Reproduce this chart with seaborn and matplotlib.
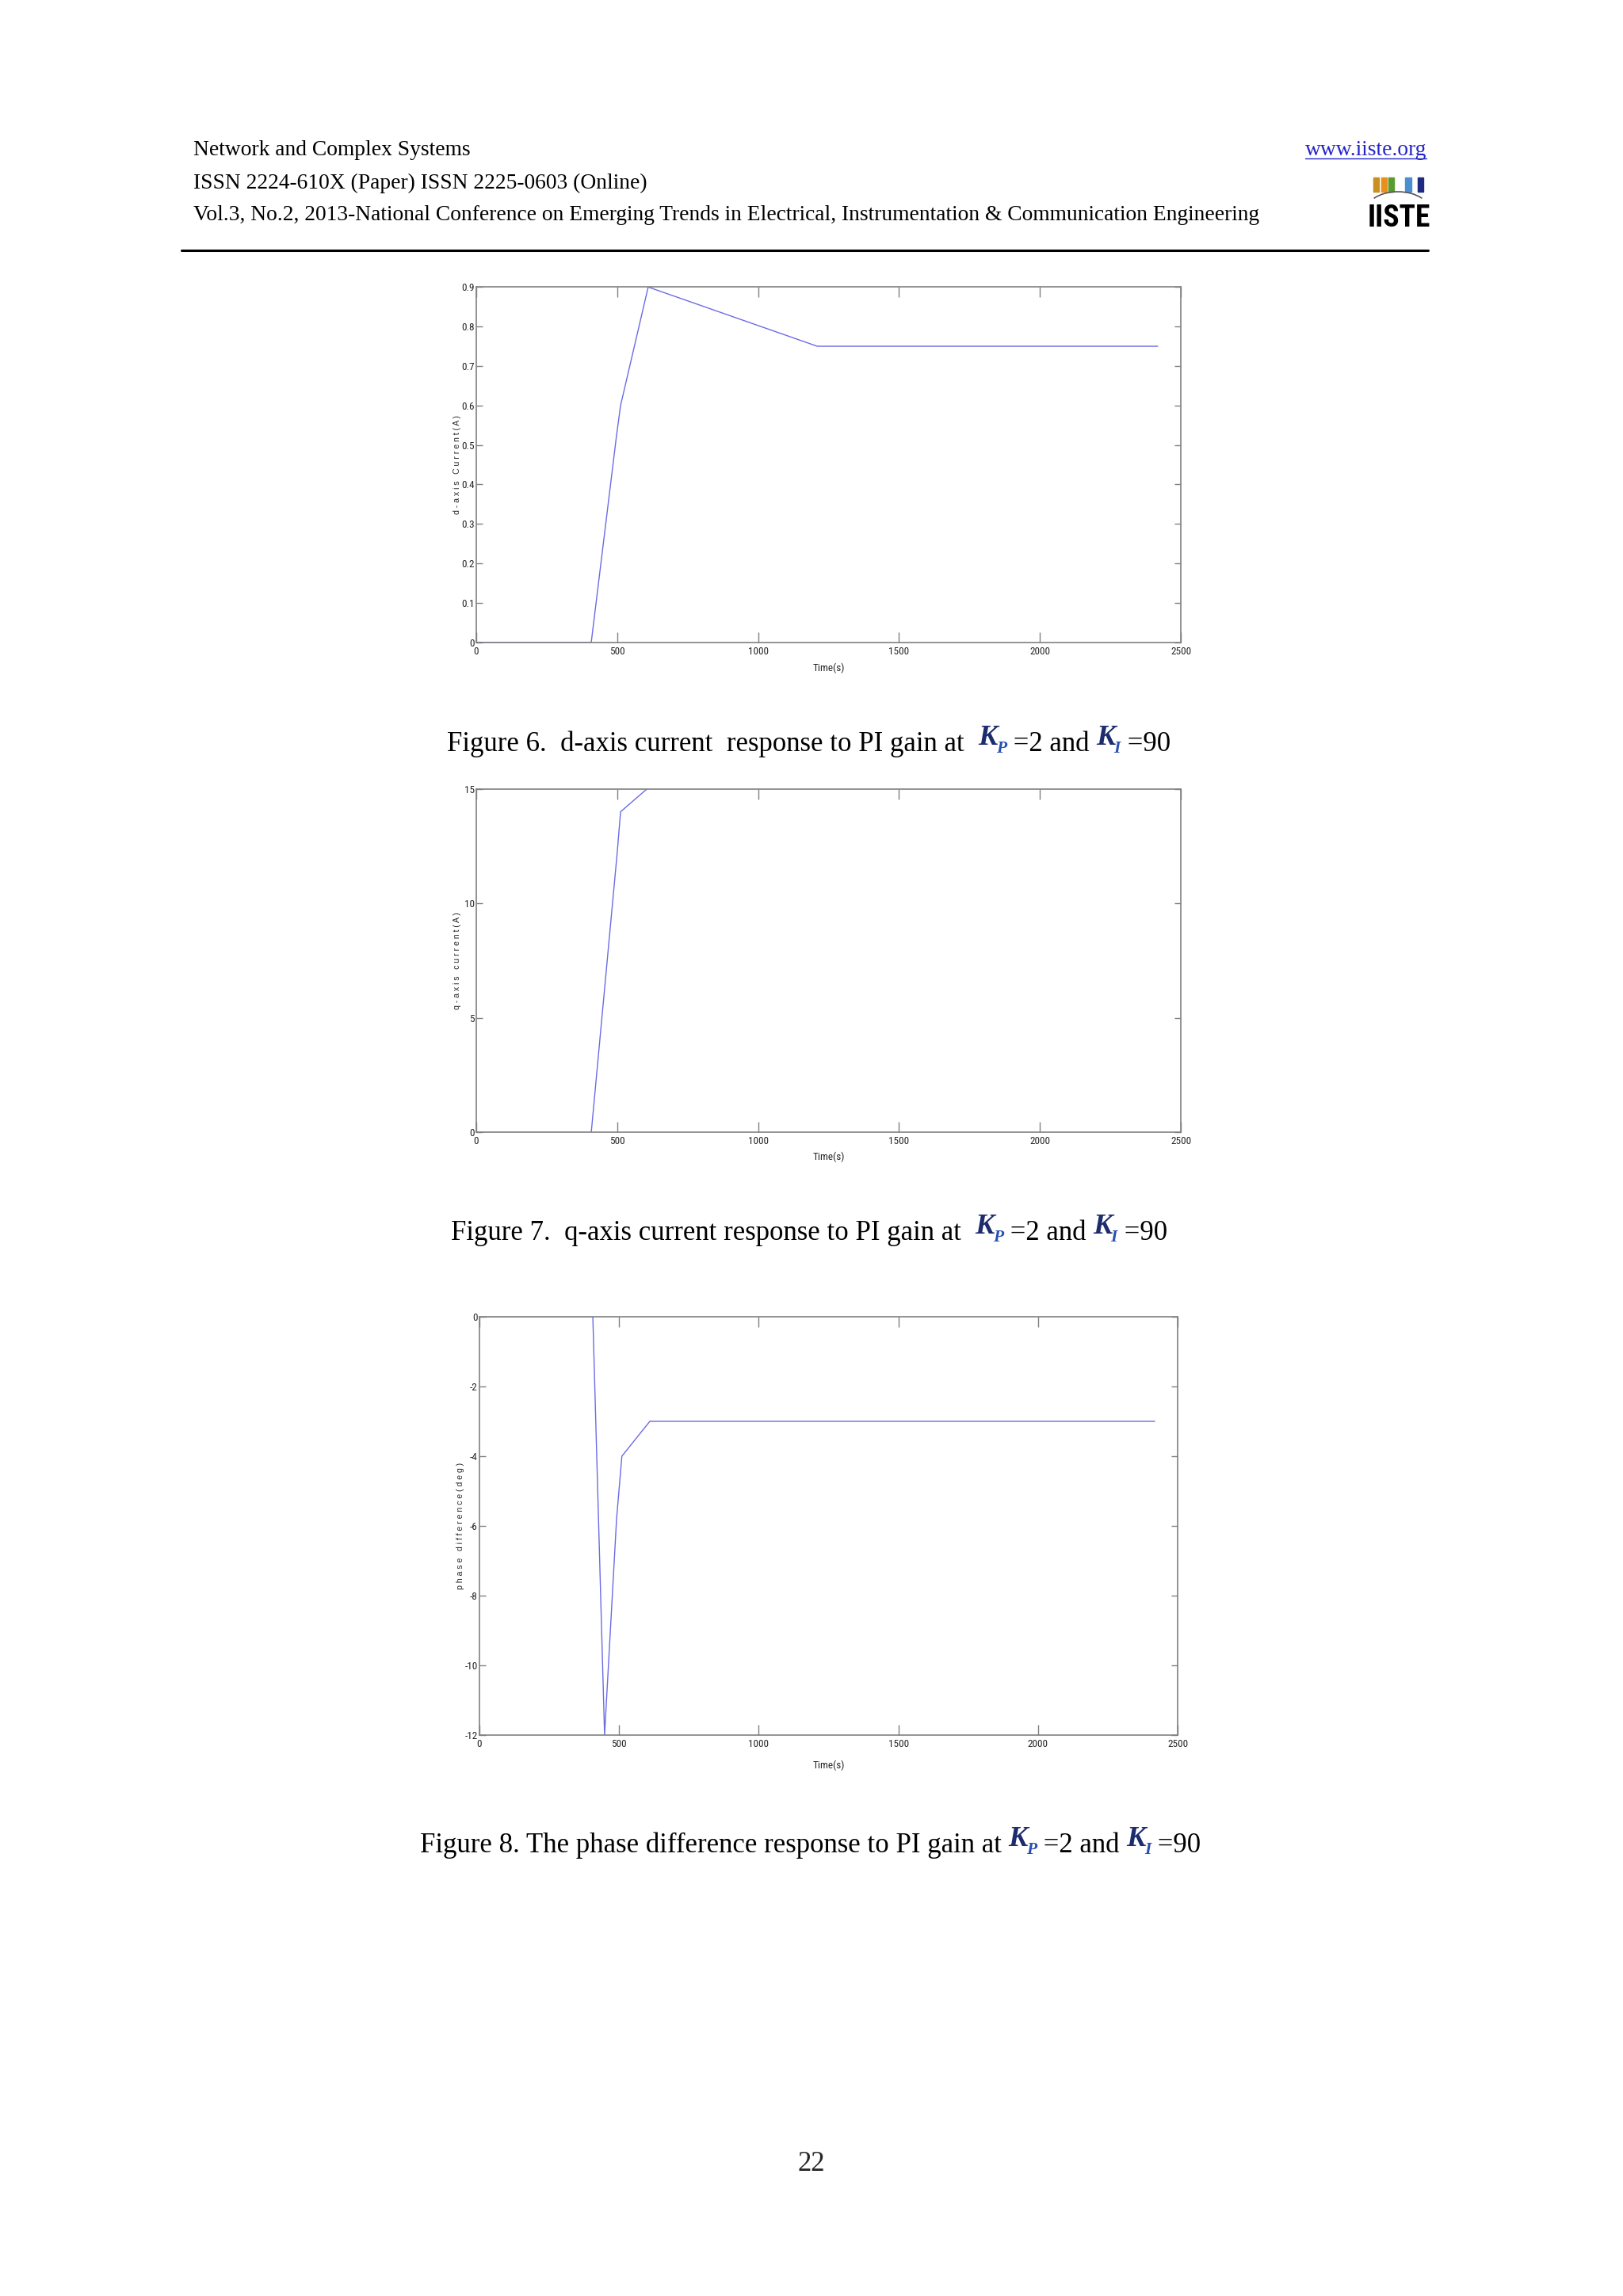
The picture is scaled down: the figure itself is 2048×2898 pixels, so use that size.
import numpy as np
import pandas as pd
import seaborn as sns
import matplotlib
matplotlib.use("Agg")
import matplotlib.pyplot as plt
from matplotlib import font_manager as fm
from matplotlib.patches import Rectangle, Arc
from matplotlib.lines import Line2D

# ---------------- data ----------------
t_d = [0, 408, 497, 512, 610, 1210, 2418]
i_d = [0, 0, 0.52, 0.6, 0.9, 0.75, 0.75]

t_q = [0, 408, 500, 512, 606]
i_q = [0, 0, 12.2, 14.0, 15.0]

t_ph = [0, 406, 448, 491, 510, 610, 2418]
ph = [0, 0, -12, -5.8, -4.0, -3.0, -3.0]

x_ticks = [0, 500, 1000, 1500, 2000, 2500]
x_ticklabels = ["0", "500", "1000", "1500", "2000", "2500"]
yd_ticks = [0, 0.1, 0.2, 0.3, 0.4, 0.5, 0.6, 0.7, 0.8, 0.9]
yd_labels = ["0", "0.1", "0.2", "0.3", "0.4", "0.5", "0.6", "0.7", "0.8", "0.9"]
yq_ticks = [0, 5, 10, 15]
yq_labels = ["0", "5", "10", "15"]
yp_ticks = [-12, -10, -8, -6, -4, -2, 0]
yp_labels = ["-12", "-10", "-8", "-6", "-4", "-2", "0"]

header_lines = ["Network and Complex Systems",
                "ISSN 2224-610X (Paper) ISSN 2225-0603 (Online)",
                "Vol.3, No.2, 2013-National Conference on Emerging Trends in Electrical, Instrumentation & Communication Engineering"]
captions = [
    ("Figure 6.  d-axis current  response to PI gain at  ", " =2 and ", " =90"),
    ("Figure 7.  q-axis current response to PI gain at  ", " =2 and ", " =90"),
    ("Figure 8. The phase difference response to PI gain at ", " =2 and ", " =90"),
]

# ---------------- style ----------------
sns.set_style("white")
names = {f.name for f in fm.fontManager.ttflist}
narrow = next((n for n in ["Liberation Sans Narrow", "Roboto Condensed", "Arial Narrow"] if n in names), "Liberation Sans")
plt.rcParams["font.family"] = ["Liberation Sans", "DejaVu Sans"]
plt.rcParams["axes.unicode_minus"] = False

W, H = 2048, 2898
fig = plt.figure(figsize=(W / 100, H / 100), dpi=100)
fig.patch.set_facecolor("white")

def fx(px):
    return px / W

def fy(py):
    return 1 - py / H

LINE = "#6b6be6"
SPINE = "#808080"
TFS = 9.5

def make_axes(rect, x, y, ylim, yt, ytl, ylabel, xlab_off, ylab_off):
    ax = fig.add_axes(rect)
    df = pd.DataFrame({"t": x, "v": y})
    sns.lineplot(data=df, x="t", y="v", ax=ax, color=LINE, lw=1.0, sort=False)
    ax.set_xlim(0, 2500)
    ax.set_ylim(*ylim)
    ax.set_xticks(x_ticks)
    ax.set_xticklabels(x_ticklabels, fontfamily=narrow, fontsize=TFS)
    ax.set_yticks(yt)
    ax.set_yticklabels(ytl, fontfamily=narrow, fontsize=TFS)
    ax.tick_params(axis="x", direction="in", length=9.4, width=1.0, color=SPINE,
                   top=True, bottom=True, labeltop=False, pad=3.5)
    ax.tick_params(axis="y", direction="in", length=5.8, width=1.0, color=SPINE,
                   left=True, right=True, labelright=False, pad=1.5)
    for s in ax.spines.values():
        s.set_visible(True)
        s.set_color(SPINE)
        s.set_linewidth(1.2)
    ax.set_xlabel("Time(s)", fontfamily=narrow, fontsize=TFS)
    ax.set_ylabel(ylabel, fontsize=7.6)
    ax.xaxis.set_label_coords(0.5, xlab_off)
    ax.yaxis.set_label_coords(ylab_off, 0.5)
    ax.grid(False)
    return ax

make_axes([fx(601), fy(810.7), fx(1490) - fx(601), (810.7 - 362.3) / H],
          t_d, i_d, (0, 0.9), yd_ticks, yd_labels, "d - a x i s   C u r r e n t ( A )", -0.058, -0.021)
make_axes([fx(601), fy(1429.3), fx(1490) - fx(601), (1429.3 - 995.7) / H],
          t_q, i_q, (0, 15), yq_ticks, yq_labels, "q - a x i s   c u r r e n t ( A )", -0.057, -0.021)
make_axes([fx(605), fy(2190), fx(1486) - fx(605), (2190 - 1662) / H],
          t_ph, ph, (-12, 0), yp_ticks, yp_labels, "p h a s e   d i f f e r e n c e ( d e g )", -0.059, -0.021)

# ---------------- header ----------------
SERIF = ["Liberation Serif", "DejaVu Serif"]
HFS = 19.8
for i, (txt, yy) in enumerate(zip(header_lines, [190, 231, 272])):
    fig.text(fx(244), fy(yy), txt, fontfamily=SERIF, fontsize=HFS, va="center", ha="left", color="black")
url = fig.text(fx(1800), fy(190), "www.iiste.org", fontfamily=SERIF, fontsize=HFS,
               va="center", ha="right", color="#2424c8")
fig.add_artist(Line2D([fx(229), fx(1802)], [fy(316), fy(316)], color="black", lw=2.2))

# logo
bar_specs = [(1733, 1740, "#c8901e"), (1743, 1750, "#e8901a"), (1752, 1759, "#5a9a30"),
             (1773, 1781, "#4a90d0"), (1789, 1796, "#1e2a80")]
for x0, x1, c in bar_specs:
    fig.add_artist(Rectangle((fx(x0), fy(242)), fx(x1) - fx(x0), (242 - 224) / H, color=c,
                             transform=fig.transFigure))
fig.add_artist(Arc((fx(1764), fy(266)), fx(80), 48 / H, theta1=20, theta2=160,
                   transform=fig.transFigure, color="#555555", lw=1.2))
fig.text(fx(1765), fy(276), "IISTE", fontfamily=narrow, fontweight="bold", fontsize=27,
         ha="center", va="center", color="black")

# ---------------- captions ----------------
fig.canvas.draw()
renderer = fig.canvas.get_renderer()
ub = url.get_window_extent(renderer=renderer)
fig.add_artist(Line2D([ub.x0 / W, ub.x1 / W], [(ub.y0 + 3) / H, (ub.y0 + 3) / H], color="#2424c8", lw=1.0))

CFS = 25

def piece(x_px, y_px, s, **kw):
    t = fig.text(fx(x_px), fy(y_px), s, va="baseline", ha="left", **kw)
    bb = t.get_window_extent(renderer=renderer)
    return x_px + bb.width

def caption(x_left, y_base, parts):
    pre, mid, post = parts
    x = piece(x_left, y_base, pre, fontfamily=SERIF, fontsize=CFS, color="black")
    x = piece(x, y_base - 8, "K", fontfamily=SERIF, fontsize=CFS * 1.05, fontweight="bold",
              fontstyle="italic", color="#1c2c6c")
    x = piece(x - 2, y_base + 2, "P", fontfamily=SERIF, fontsize=CFS * 0.62, fontweight="bold",
              fontstyle="italic", color="#2850b0")
    x = piece(x, y_base, mid, fontfamily=SERIF, fontsize=CFS, color="black")
    x = piece(x, y_base - 8, "K", fontfamily=SERIF, fontsize=CFS * 1.05, fontweight="bold",
              fontstyle="italic", color="#1c2c6c")
    x = piece(x - 2, y_base + 2, "I", fontfamily=SERIF, fontsize=CFS * 0.62, fontweight="bold",
              fontstyle="italic", color="#2850b0")
    piece(x, y_base, post, fontfamily=SERIF, fontsize=CFS, color="black")

caption(564, 948, captions[0])
caption(569, 1565, captions[1])
caption(530, 2338, captions[2])

fig.text(fx(1024), fy(2731), "22", fontfamily=SERIF, fontsize=CFS, ha="center", va="center")

fig.savefig("out.png", dpi=100, facecolor="white")
